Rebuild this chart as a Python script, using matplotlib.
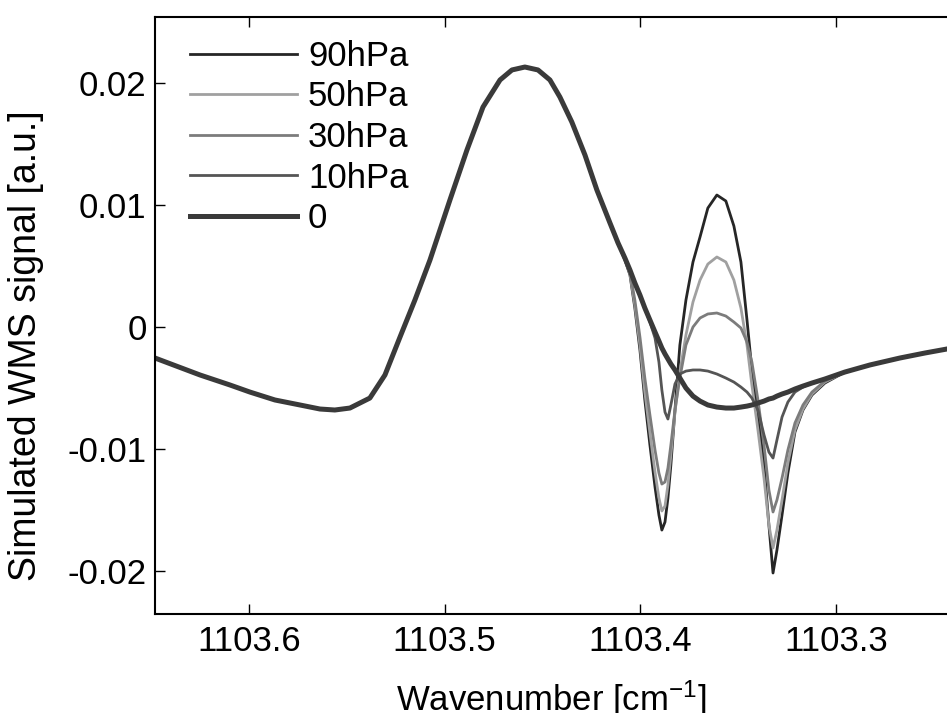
import matplotlib
matplotlib.use("Agg")
import matplotlib.pyplot as plt
import numpy as np

plt.rcParams['font.family'] = ['Liberation Sans', 'DejaVu Sans']
plt.rcParams['mathtext.fontset'] = 'custom'
plt.rcParams['mathtext.rm'] = 'Liberation Sans'
plt.rcParams['mathtext.it'] = 'Liberation Sans:italic'
plt.rcParams['mathtext.bf'] = 'Liberation Sans:bold'
plt.rcParams['axes.unicode_minus'] = False

# ---- data ----
# shared part of all curves (left of ~1103.41 cm-1)
x_main = [1103.6480, 1103.6250, 1103.6097, 1103.5995, 1103.5867, 1103.5739, 1103.5637,
          1103.5561, 1103.5484, 1103.5382, 1103.5305, 1103.5228, 1103.5152, 1103.5075,
          1103.4973, 1103.4886, 1103.4804, 1103.4717, 1103.4656, 1103.4590, 1103.4523,
          1103.4462, 1103.4411, 1103.4350, 1103.4283, 1103.4222, 1103.4155, 1103.4114]
y_main = [-0.00254, -0.00393, -0.00475, -0.00533, -0.00598, -0.00639, -0.00672,
          -0.00680, -0.00664, -0.00582, -0.00393, -0.00082, 0.00221, 0.00549,
          0.01041, 0.01451, 0.01803, 0.02025, 0.02107, 0.02131, 0.02107,
          0.02025, 0.01885, 0.01680, 0.01410, 0.01123, 0.00852, 0.00689]

# right part where the curves differ
x_tail = [1103.4079, 1103.4053, 1103.4028, 1103.4002, 1103.3977, 1103.3951, 1103.3925,
          1103.3905, 1103.3890, 1103.3874, 1103.3859, 1103.3844, 1103.3823, 1103.3798,
          1103.3767, 1103.3731, 1103.3695, 1103.3655, 1103.3609, 1103.3563, 1103.3522,
          1103.3486, 1103.3455, 1103.3430, 1103.3399, 1103.3368, 1103.3343, 1103.3322,
          1103.3302, 1103.3276, 1103.3246, 1103.3210, 1103.3169, 1103.3123, 1103.3057,
          1103.2955, 1103.2827, 1103.2674, 1103.2546, 1103.2433]

y_90 = [0.00549, 0.00426, 0.00156, -0.00189, -0.00598, -0.00967, -0.01311, -0.01541,
        -0.01664, -0.01598, -0.01402, -0.01131, -0.00680, -0.00148, 0.00221, 0.00533,
        0.00738, 0.00975, 0.01082, 0.01033, 0.00828, 0.00533, 0.00057, -0.00352,
        -0.00721, -0.01131, -0.01623, -0.02016, -0.01828, -0.01541, -0.01197, -0.00861,
        -0.00680, -0.00557, -0.00459, -0.00369, -0.00311, -0.00254, -0.00213, -0.00180]
y_50 = [0.00557, 0.00434, 0.00180, -0.00148, -0.00533, -0.00869, -0.01189, -0.01402,
        -0.01508, -0.01467, -0.01295, -0.01049, -0.00697, -0.00369, -0.00066, 0.00205,
        0.00385, 0.00516, 0.00574, 0.00533, 0.00385, 0.00156, -0.00148, -0.00475,
        -0.00844, -0.01238, -0.01623, -0.01811, -0.01664, -0.01418, -0.01115, -0.00844,
        -0.00672, -0.00549, -0.00451, -0.00369, -0.00311, -0.00254, -0.00213, -0.00180]
y_30 = [0.00566, 0.00451, 0.00221, -0.00082, -0.00418, -0.00721, -0.01008, -0.01197,
        -0.01287, -0.01270, -0.01156, -0.00967, -0.00680, -0.00418, -0.00148, 0.00000,
        0.00074, 0.00107, 0.00115, 0.00090, 0.00041, -0.00008, -0.00123, -0.00287,
        -0.00598, -0.00967, -0.01336, -0.01516, -0.01418, -0.01238, -0.01008, -0.00787,
        -0.00639, -0.00533, -0.00443, -0.00369, -0.00311, -0.00254, -0.00213, -0.00180]
y_10 = [0.00566, 0.00467, 0.00361, 0.00262, 0.00156, 0.00041, -0.00090, -0.00287,
        -0.00516, -0.00697, -0.00754, -0.00639, -0.00467, -0.00385, -0.00361, -0.00352,
        -0.00352, -0.00361, -0.00385, -0.00418, -0.00451, -0.00492, -0.00533, -0.00582,
        -0.00680, -0.00885, -0.01025, -0.01074, -0.00926, -0.00738, -0.00615, -0.00533,
        -0.00492, -0.00459, -0.00426, -0.00369, -0.00311, -0.00254, -0.00213, -0.00180]
y_0 = [0.00566, 0.00467, 0.00361, 0.00262, 0.00156, 0.00057, -0.00041, -0.00115,
       -0.00172, -0.00221, -0.00262, -0.00303, -0.00352, -0.00418, -0.00500, -0.00566,
       -0.00607, -0.00639, -0.00656, -0.00664, -0.00664, -0.00656, -0.00648, -0.00639,
       -0.00623, -0.00607, -0.00590, -0.00582, -0.00566, -0.00549, -0.00533, -0.00508,
       -0.00484, -0.00459, -0.00426, -0.00369, -0.00311, -0.00254, -0.00213, -0.00180]

series_labels = ['90hPa', '50hPa', '30hPa', '10hPa', '0']
series_tails = [y_90, y_50, y_30, y_10, y_0]
series_colors = ['#262626', '#a0a0a0', '#7c7c7c', '#555555', '#3a3a3a']
series_widths = [2.0, 2.0, 2.0, 2.0, 3.6]

xtick_vals = [1103.6, 1103.5, 1103.4, 1103.3]
xtick_labels = ['1103.6', '1103.5', '1103.4', '1103.3']
ytick_vals = [0.02, 0.01, 0.0, -0.01, -0.02]
ytick_labels = ['0.02', '0.01', '0', '-0.01', '-0.02']

# ---- figure ----
W, H = 947, 713
fig = plt.figure(figsize=(W / 100, H / 100), dpi=100)
ax = fig.add_axes([155 / W, 1 - 614 / H, (947 - 155) / W, (614 - 17) / H])

for lab, tail, col, lw in zip(series_labels, series_tails, series_colors, series_widths):
    xs = list(x_main) + list(x_tail)
    ys = list(y_main) + list(tail)
    ax.plot(xs, ys, color=col, lw=lw, label=lab, solid_joinstyle='round')

ax.set_xlim(1103.648, 1103.2433)
ax.set_ylim(-0.02352, 0.02541)
ax.set_xticks(xtick_vals)
ax.set_xticklabels(xtick_labels)
ax.set_yticks(ytick_vals)
ax.set_yticklabels(ytick_labels)

ax.tick_params(direction='in', length=7, width=1.0, top=True, right=False,
               labelsize=25, colors='black')
ax.tick_params(axis='x', pad=8)
ax.tick_params(axis='y', pad=6)
for s in ['left', 'bottom', 'top']:
    ax.spines[s].set_linewidth(1.5)
    ax.spines[s].set_color('black')
ax.spines['right'].set_visible(False)

ax.set_xlabel('Wavenumber [cm$^{-1}$]', fontsize=25)
ax.xaxis.set_label_coords(0.5, -0.108)
ax.set_ylabel('Simulated WMS signal [a.u.]', fontsize=27)
ax.yaxis.set_label_coords(-0.14, 0.45)

leg = ax.legend(loc='upper left', bbox_to_anchor=(0.044, 0.962), frameon=False,
                fontsize=25, borderpad=0, borderaxespad=0, handlelength=3.1,
                handletextpad=0.3, labelspacing=0.22)

fig.savefig('out.png', dpi=100)
